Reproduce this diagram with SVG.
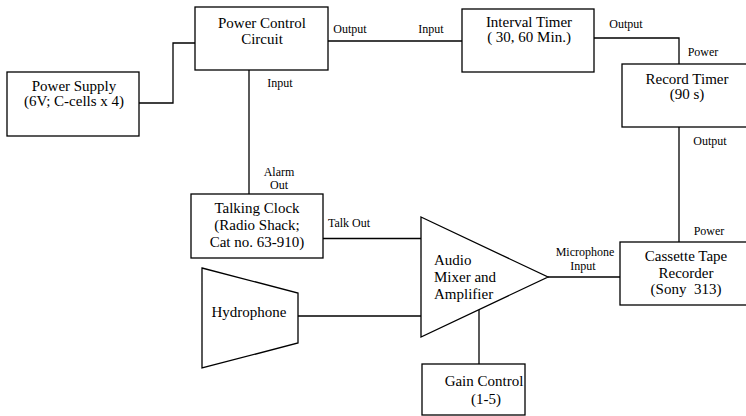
<svg xmlns="http://www.w3.org/2000/svg" width="746" height="416" viewBox="0 0 746 416">
  <style>
    .box { fill: #fff; stroke: #000; stroke-width: 1.3; }
    .wire { fill: none; stroke: #000; stroke-width: 1.3; }
    .t { font-size: 15px; text-anchor: middle; }
    .tl { font-size: 15px; }
    .lab { font-size: 12px; text-anchor: middle; }
  </style>
  <rect width="746" height="416" fill="#fff"/>

  <!-- wiring between the blocks -->
  <g id="connectors">
    <polyline class="wire" points="139,103 173,103 173,43 196,43"/>
    <line class="wire" x1="328" y1="41" x2="462" y2="41"/>
    <polyline class="wire" points="594,38 679,38 679,64"/>
    <line class="wire" x1="249" y1="70" x2="249" y2="194"/>
    <line class="wire" x1="679" y1="127" x2="679" y2="242"/>
    <line class="wire" x1="323" y1="238.5" x2="423" y2="238.5"/>
    <line class="wire" x1="298" y1="316" x2="421" y2="316"/>
    <line class="wire" x1="548" y1="277" x2="622" y2="277"/>
    <line class="wire" x1="479" y1="310" x2="479" y2="364"/>
  </g>

  <g font-family="Liberation Serif, DejaVu Serif, serif" fill="#000">
  <!-- port labels -->
  <g id="labels">
    <text class="lab" x="350" y="33">Output</text>
    <text class="lab" x="431" y="33">Input</text>
    <text class="lab" x="626" y="28">Output</text>
    <text class="lab" x="703" y="56">Power</text>
    <text class="lab" x="710" y="145">Output</text>
    <text class="lab" x="709" y="235">Power</text>
    <text class="lab" x="280" y="87">Input</text>
    <text class="lab" x="279" y="176">Alarm</text>
    <text class="lab" x="279" y="189">Out</text>
    <text class="lab" x="349" y="227">Talk Out</text>
    <text class="lab" x="585" y="256">Microphone</text>
    <text class="lab" x="583" y="270">Input</text>
  </g>

  <g id="power-supply">
    <rect class="box" x="7" y="72" width="132" height="64"/>
    <text class="t" x="74" y="91">Power Supply</text>
    <text class="t" x="74" y="106">(6V; C-cells x 4)</text>
  </g>

  <g id="power-control">
    <rect class="box" x="195" y="7" width="133" height="63"/>
    <text class="t" x="262" y="28">Power Control</text>
    <text class="t" x="262" y="44">Circuit</text>
  </g>

  <g id="interval-timer">
    <rect class="box" x="462" y="9" width="132" height="63"/>
    <text class="t" x="529" y="27">Interval Timer</text>
    <text class="t" x="529" y="42">( 30, 60 Min.)</text>
  </g>

  <g id="record-timer">
    <rect class="box" x="622" y="64" width="132" height="63"/>
    <text class="t" x="687" y="84">Record Timer</text>
    <text class="t" x="687" y="99">(90 s)</text>
  </g>

  <g id="talking-clock">
    <rect class="box" x="191" y="194" width="132" height="64"/>
    <text class="t" x="257" y="213">Talking Clock</text>
    <text class="t" x="257" y="230">(Radio Shack;</text>
    <text class="t" x="257" y="247">Cat no. 63-910)</text>
  </g>

  <g id="hydrophone">
    <polygon class="box" points="202,268 298,293 298,343 202,368"/>
    <text class="t" x="249" y="317">Hydrophone</text>
  </g>

  <g id="mixer-amplifier">
    <polygon class="box" points="421,217 548,277 421,337"/>
    <text class="tl" x="434" y="265">Audio</text>
    <text class="tl" x="434" y="282">Mixer and</text>
    <text class="tl" x="434" y="299">Amplifier</text>
  </g>

  <g id="cassette-recorder">
    <rect class="box" x="620" y="242" width="132" height="63"/>
    <text class="t" x="686" y="261">Cassette Tape</text>
    <text class="t" x="686" y="278">Recorder</text>
    <text class="t" x="686" y="294" xml:space="preserve">(Sony  313)</text>
  </g>

  <g id="gain-control">
    <rect class="box" x="422" y="364" width="103" height="51"/>
    <text class="t" x="484" y="386">Gain Control</text>
    <text class="t" x="486" y="404">(1-5)</text>
  </g>
  </g>
</svg>
